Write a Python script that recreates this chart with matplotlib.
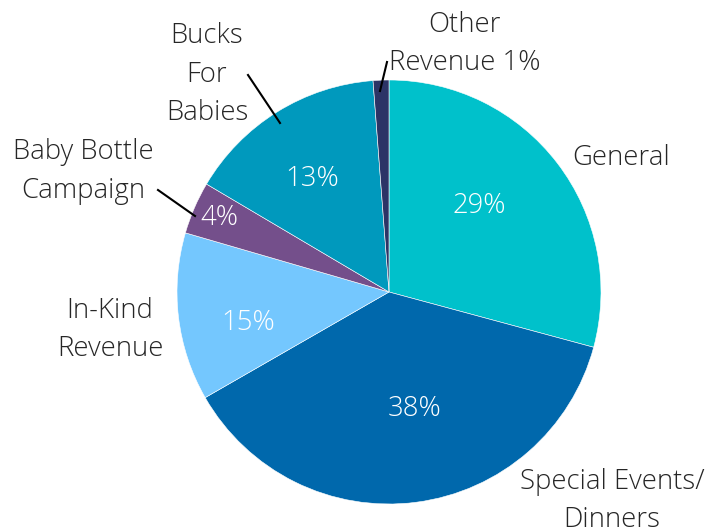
import matplotlib
matplotlib.use("Agg")
import matplotlib.pyplot as plt

categories = ["General", "Special Events/\nDinners", "In-Kind\nRevenue",
              "Baby Bottle\nCampaign", "Bucks\nFor\nBabies", "Other\nRevenue 1%"]
values = [29.2, 37.5, 12.8, 4.0, 15.3, 1.2]
pct_labels = ["29%", "38%", "15%", "4%", "13%", ""]
colors = ["#00C1CB", "#0068AC", "#74C7FE", "#744F8B", "#0099BD", "#2C3466"]

W, H = 724, 531
fig = plt.figure(figsize=(W / 100, H / 100), dpi=100)
ax = fig.add_axes([0, 0, 1, 1])

cx, cy, r = 389, H - 292, 212
ax.pie(values, colors=colors, startangle=90, counterclock=False,
       center=(cx, cy), radius=r, frame=True,
       wedgeprops=dict(edgecolor="white", linewidth=0.4))
ax.set_xlim(0, W)
ax.set_ylim(0, H)
ax.set_aspect("equal")
ax.axis("off")

font = dict(family=["Open Sans", "DejaVu Sans"], fontweight="light")
fs = 19.8

# percent labels: (x centre, baseline) in pixels from top-left
pct_pos = [(479, 213), (415, 416), (248, 330), (219, 225), (312, 186)]
for (x, y), t in zip(pct_pos, pct_labels):
    ax.text(x, H - y, t, color="white", fontsize=fs, ha="center", va="baseline", **font)

# category labels: (x centre, last-line baseline)
cat_pos = [(621, 165), (612, 527), (110, 356), (83, 198), (207, 120), (465, 70)]
for (x, y), t in zip(cat_pos, categories):
    ax.text(x, H - y, t, color="#262626", fontsize=fs, ha="center", va="baseline",
            multialignment="center", linespacing=1.5, **font)

# leader lines
leaders = [((380, 91), (387, 62)), ((195, 216), (158, 190)), ((280, 123), (248, 75))]
for (x1, y1), (x2, y2) in leaders:
    ax.plot([x1, x2], [H - y1, H - y2], color="black", lw=1.5)

fig.savefig("out.png", dpi=100)
